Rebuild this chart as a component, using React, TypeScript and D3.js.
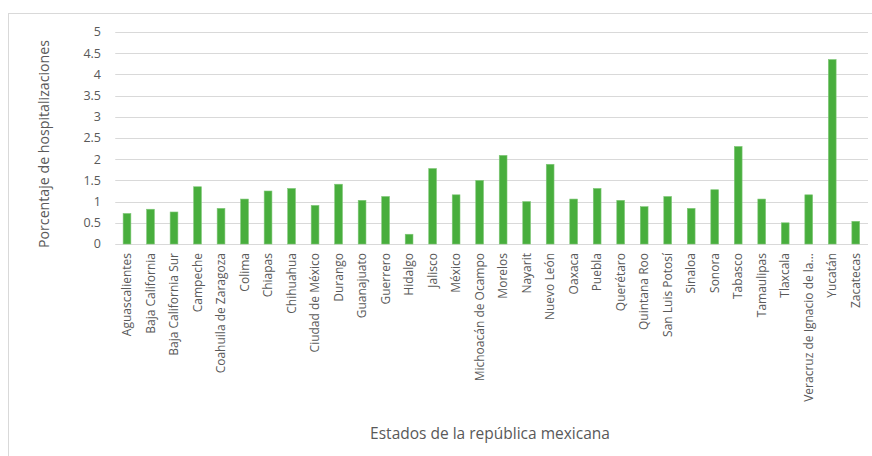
import React from "react";
import * as d3 from "d3";

const categories = [
  "Aguascalientes", "Baja California", "Baja California Sur", "Campeche",
  "Coahuila de Zaragoza", "Colima", "Chiapas", "Chihuahua", "Ciudad de México",
  "Durango", "Guanajuato", "Guerrero", "Hidalgo", "Jalisco", "México",
  "Michoacán de Ocampo", "Morelos", "Nayarit", "Nuevo León", "Oaxaca", "Puebla",
  "Querétaro", "Quintana Roo", "San Luis Potosí", "Sinaloa", "Sonora", "Tabasco",
  "Tamaulipas", "Tlaxcala", "Veracruz de Ignacio de la...", "Yucatán", "Zacatecas",
];
const values = [
  0.72, 0.82, 0.755, 1.35, 0.84, 1.06, 1.25, 1.31, 0.91, 1.41, 1.03, 1.12, 0.23,
  1.78, 1.16, 1.5, 2.09, 1.0, 1.88, 1.06, 1.31, 1.03, 0.88, 1.12, 0.84, 1.28,
  2.3, 1.06, 0.5, 1.16, 4.35, 0.535,
];
const yTicks = [0, 0.5, 1, 1.5, 2, 2.5, 3, 3.5, 4, 4.5, 5];
const yTitle = "Porcentaje de hospitalizaciones";
const xTitle = "Estados de la república mexicana";

export default function App() {
  const W = 872, H = 456;
  const left = 115.25, right = 867.5, top = 32, bottom = 244;
  const x = d3.scaleBand<string>().domain(categories).range([left, right]).paddingInner(0.67).paddingOuter(0.335);
  const y = d3.scaleLinear().domain([0, 5]).range([bottom, top]);
  const font = "'Open Sans', sans-serif";
  const gray = "#595959";
  return (
    <svg width={W} height={H} style={{ position: "absolute", left: 0, top: 0, background: "#fff" }}>
      <rect x={8.5} y={13.5} width={W} height={H} fill="#fff" stroke="#d9d9d9" strokeWidth={1} />
      {yTicks.map((t) => (
        <g key={t}>
          <line x1={left} x2={868} y1={Math.round(y(t)) + 0.5} y2={Math.round(y(t)) + 0.5} stroke="#d9d9d9" strokeWidth={1} />
          <text x={101} y={y(t)} dy="0.35em" textAnchor="end" fontFamily={font} fontSize={12.5} fill={gray}>
            {String(t)}
          </text>
        </g>
      ))}
      {categories.map((c, i) => (
        <rect key={c} x={x(c)!} y={y(values[i])} width={x.bandwidth()} height={bottom - y(values[i])} fill="#48ae3d" stroke="#7fc777" strokeWidth={0.6} />
      ))}
      {categories.map((c) => {
        const cx = x(c)! + x.bandwidth() / 2;
        return (
          <text key={c} transform={`translate(${cx},253) rotate(-90)`} textAnchor="end" dy="0.35em" fontFamily={font} fontSize={12} fill={gray}>
            {c}
          </text>
        );
      })}
      <text transform={`translate(44,144) rotate(-90)`} textAnchor="middle" dy="0.35em" fontFamily={font} fontSize={14.2} fill={gray}>
        {yTitle}
      </text>
      <text x={490} y={434} dy="0.35em" textAnchor="middle" fontFamily={font} fontSize={15.5} fill={gray}>
        {xTitle}
      </text>
    </svg>
  );
}
